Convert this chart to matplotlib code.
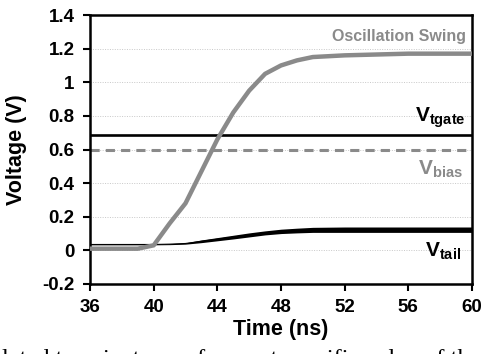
import matplotlib
matplotlib.use('Agg')
import matplotlib.pyplot as plt

plt.rcParams['font.family'] = ['Liberation Sans', 'DejaVu Sans']
plt.rcParams['font.weight'] = 'bold'
plt.rcParams['mathtext.fontset'] = 'custom'
plt.rcParams['mathtext.bf'] = 'Liberation Sans:bold'
plt.rcParams['mathtext.rm'] = 'Liberation Sans:bold'

# Oscillation swing (grey thick line)
t_swing = [36, 39, 40, 41, 42, 43, 44, 45, 46, 47, 48, 49, 50, 52, 56, 60]
v_swing = [0.01, 0.01, 0.03, 0.16, 0.28, 0.47, 0.66, 0.82, 0.95, 1.05, 1.10, 1.13, 1.15, 1.16, 1.17, 1.17]

# Vtail (black band, oscillating)
t_tail = [36, 40, 41, 42, 43, 44, 45, 46, 47, 48, 49, 50, 52, 56, 60]
tail_lo = [0.033, 0.033, 0.034, 0.037, 0.046, 0.057, 0.068, 0.080, 0.092, 0.100, 0.104, 0.107, 0.107, 0.107, 0.107]
tail_hi = [0.037, 0.037, 0.040, 0.045, 0.062, 0.076, 0.090, 0.104, 0.116, 0.126, 0.132, 0.137, 0.139, 0.139, 0.139]

v_tgate = 0.685
v_bias = 0.60

xticks = [36, 40, 44, 48, 52, 56, 60]
yticks = [-0.2, 0, 0.2, 0.4, 0.6, 0.8, 1, 1.2, 1.4]
ytick_labels = ['-0.2', '0', '0.2', '0.4', '0.6', '0.8', '1', '1.2', '1.4']

grey = '#8a8a8a'

fig = plt.figure(figsize=(4.82, 3.54), dpi=100)
ax = fig.add_axes([90/482, 1-284/354, 382/482, 269/354])

# grid
for y in yticks[1:-1]:
    ax.axhline(y, color='#c8c8c8', lw=0.7, ls=(0, (1, 1.5)), zorder=0)

ax.axhline(v_tgate, color='black', lw=1.9, zorder=2)
ax.axhline(v_bias, color=grey, lw=2.2, ls=(0, (3, 2)), zorder=2)

t_mid = [(a + b) / 2 for a, b in zip(tail_lo, tail_hi)]
ax.fill_between(t_tail, tail_lo, tail_hi, color='black', lw=0, zorder=3)
ax.plot(t_tail, t_mid, color='black', lw=0.8, zorder=3)

ax.plot(t_swing, v_swing, color=grey, lw=3.2, solid_capstyle='butt', zorder=4)

ax.set_xlim(36, 60)
ax.set_ylim(-0.2, 1.4)
ax.set_xticks(xticks)
ax.set_xticklabels([str(x) for x in xticks])
ax.set_yticks(yticks)
ax.set_yticklabels(ytick_labels)
ax.tick_params(axis='both', direction='out', length=5, width=1.5, labelsize=13.5, pad=6)

for s in ax.spines.values():
    s.set_linewidth(1.8)

ax.set_xlabel('Time (ns)', fontsize=15.5, fontweight='bold')
ax.set_ylabel('Voltage (V)', fontsize=15.5, fontweight='bold')
ax.xaxis.set_label_coords(0.5, -(319-284)/269)
ax.yaxis.set_label_coords(-(90-27)/382, 0.5)

ax.text(59.6, 1.27, 'Oscillation Swing', color=grey, fontsize=11.5, fontweight='bold',
        ha='right', va='center')
ax.text(59.6, 0.79, r'$\mathbf{V_{tgate}}$', color='black', fontsize=15, ha='right', va='center')
ax.text(59.4, 0.48, r'$\mathbf{V_{bias}}$', color=grey, fontsize=15, ha='right', va='center')
ax.text(59.3, -0.005, r'$\mathbf{V_{tail}}$', color='black', fontsize=15, ha='right', va='center')

# caption of the source page, cut off at the bottom edge
fig.text(2/482, 1-365/354, 'lated transient waveforms at specific value of the',
         family='Liberation Serif', fontweight='normal', fontsize=17.5, va='baseline')

fig.savefig('out.png', dpi=100)
